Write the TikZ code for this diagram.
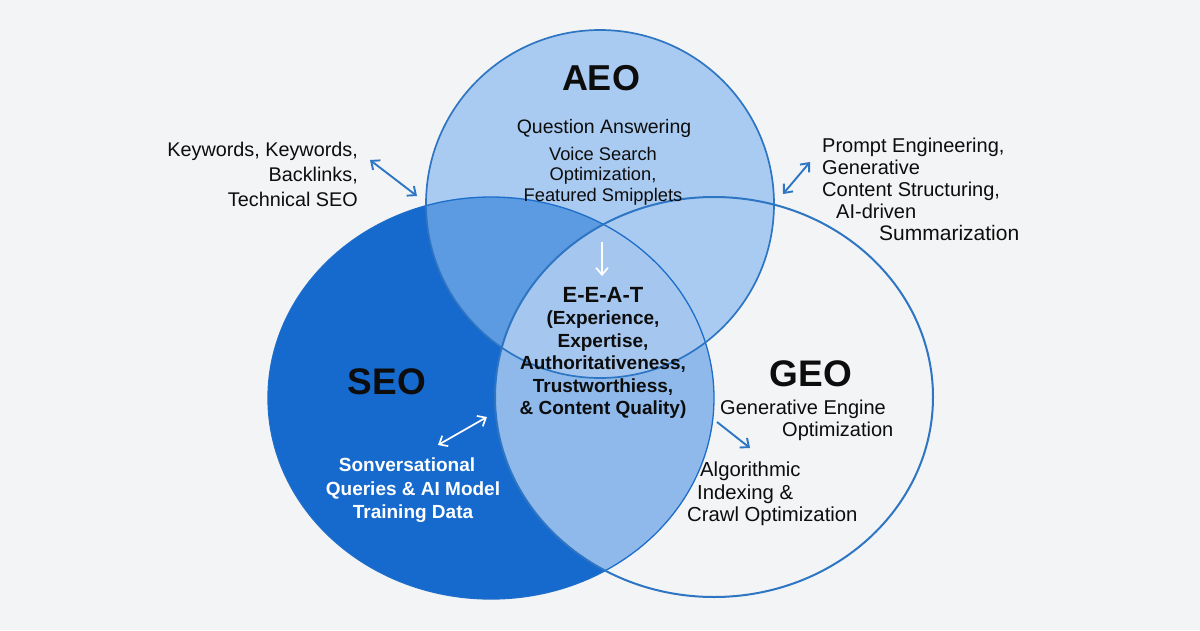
\documentclass[tikz,border=0pt]{standalone}
\usepackage{fontspec}
\setmainfont{Liberation Sans}
\usetikzlibrary{arrows.meta}
\definecolor{bgc}{HTML}{F3F4F5}
\definecolor{seoc}{HTML}{1669CD}
\definecolor{aeoseoc}{HTML}{5C9BE1}
\definecolor{aeoc}{HTML}{A9CBF1}
\definecolor{segeoc}{HTML}{8EB9EA}
\definecolor{centerc}{HTML}{A5C7EF}
\definecolor{linec}{HTML}{2E75C3}
\definecolor{txt}{HTML}{0D0D0D}
\def\SEOpath{(491,398) ellipse [x radius=223pt, y radius=201pt]}
\def\AEOpath{(600,204) circle [radius=174pt]}
\def\GEOpath{(714,397) ellipse [x radius=219pt, y radius=200pt]}
\begin{document}
\begin{tikzpicture}[x=1pt,y=-1pt,
  >={Straight Barb[length=7pt,width=12pt]},
  title/.style={inner sep=0pt, text=txt, font=\bfseries\fontsize{37}{40}\selectfont},
  lbl/.style={inner sep=0pt, text=txt, font=\fontsize{20}{22}\selectfont},
  blarrow/.style={linec, line width=1.9pt},
  wharrow/.style={white, line width=1.7pt}]
\useasboundingbox (0,0) rectangle (1200,630);
\fill[bgc] (0,0) rectangle (1200,630);
% region fills
\fill[seoc] \SEOpath;
\begin{scope}
  \clip \SEOpath;
  \fill[segeoc] \GEOpath;
\end{scope}
\fill[aeoc] \AEOpath;
\begin{scope}
  \clip \AEOpath;
  \fill[aeoseoc] \SEOpath;
\end{scope}
\begin{scope}
  \clip \AEOpath;
  \clip \SEOpath;
  \fill[centerc] \GEOpath;
\end{scope}
% outlines
\draw[seoc!70!linec, line width=1.3pt] \SEOpath;
\draw[linec, line width=2pt] \GEOpath;
\draw[linec, line width=1.7pt] \AEOpath;
% titles
\node[title, font=\bfseries\fontsize{36}{40}\selectfont] (aeo) at (601,78) {AEO};
\node[title] (seo) at (387,382) {SEO};
\node[title] (geo) at (811,374) {GEO};
% AEO texts
\node[lbl, font=\fontsize{19.5}{22}\selectfont, anchor=north] (qa) at (604,119) {Question Answering};
\node[lbl, font=\fontsize{18.3}{20.5}\selectfont, anchor=north, align=center] (voice) at (603,147) {Voice Search\\Optimization,\\Featured Smipplets};
% centre
\node[inner sep=0pt, text=txt, anchor=north, align=center, font=\bfseries\fontsize{19}{22.5}\selectfont] (eeat) at (603,287)
  {{\fontsize{22}{24}\selectfont E-E-A-T}\\(Experience,\\Expertise,\\Authoritativeness,\\Trustworthiess,\\\& Content Quality)};
% SEO white text
\node[inner sep=0pt, text=white, anchor=north, align=center, font=\bfseries\fontsize{19}{23.5}\selectfont] (conv) at (413,458)
  {Sonversational\hspace*{12pt}\\Queries \& AI Model\\Training Data};
% left text
\node[lbl, font=\fontsize{19.8}{25}\selectfont, anchor=north east, align=right] (kw) at (358,142) {Keywords, Keywords,\\Backlinks,\\Technical SEO};
% right text
\node[lbl, anchor=north west, align=left] (prompt) at (822,138)
  {Prompt Engineering,\\Generative\\Content Structuring,\\\hspace*{14pt}AI-driven\\\hspace*{57pt}{\fontsize{21}{22}\selectfont Summarization}};
% GEO subtitle
\node[lbl, font=\fontsize{20}{21.5}\selectfont, anchor=north west, align=left] (gen) at (720,400)
  {Generative Engine\\\hspace*{62pt}Optimization};
\node[lbl, font=\fontsize{20.3}{22.5}\selectfont, anchor=north west, align=left] (algo) at (687,462)
  {\hspace*{13pt}Algorithmic\\\hspace*{10pt}Indexing \&\\Crawl Optimization};
% arrows
\coordinate (kwA) at (370,160);
\coordinate (kwB) at (417,196);
\coordinate (prA) at (783,194);
\coordinate (prB) at (810,162);
\coordinate (geA) at (717,422);
\coordinate (geB) at (750,448);
\coordinate (cvA) at (438,445);
\coordinate (cvB) at (487,417);
\coordinate (dnA) at (602,242);
\coordinate (dnB) at (602,276);
\draw[blarrow, <->] (kwA) -- (kwB);
\draw[blarrow, <->] (prA) -- (prB);
\draw[blarrow, ->] (geA) -- (geB);
\draw[wharrow, <->] (cvA) -- (cvB);
\draw[wharrow, ->] (dnA) -- (dnB);
\end{tikzpicture}
\end{document}
